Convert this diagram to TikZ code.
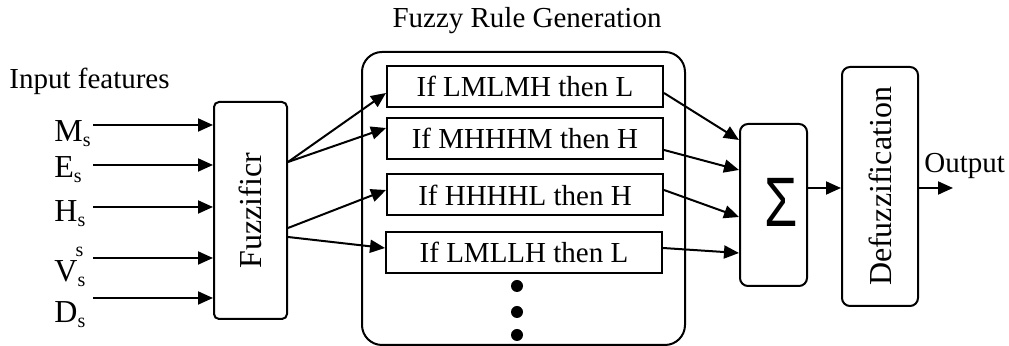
\documentclass[tikz,border=0pt]{standalone}
\usepackage{fontspec}
\setmainfont{Liberation Serif}
\newfontfamily\sumfont{Liberation Sans}
\usetikzlibrary{arrows.meta}
\tikzstyle{block}=[draw, line width=1pt, rounded corners=2.5pt, inner sep=0pt]
\tikzstyle{rulebox}=[draw, line width=1pt, minimum width=138pt, minimum height=20.5pt, inner sep=0pt]
\tikzstyle{feed}=[line width=1pt, -{Triangle[length=7.5pt,width=6.5pt]}]
\tikzstyle{feature}=[anchor=base west, inner sep=0pt, font=\fontsize{16}{19}\selectfont]
\tikzstyle{vlabel}=[rotate=90, font=\fontsize{16}{19}\selectfont]
\newcommand{\idx}[1]{\raisebox{-2.2pt}{\fontsize{10}{12}\selectfont #1}}

\begin{document}
\begin{tikzpicture}[x=0.5pt, y=-0.5pt, font=\fontsize{14.5}{17}\selectfont]
\useasboundingbox (0,0) rectangle (1009,346);
% Input features
    \node[anchor=base west, inner sep=0pt] (inputs) at (9,89) {Input features};
    \node[feature] (ms) at (54,141.7) {M\idx{s}};
    \node[feature] (es) at (54,178) {E\idx{s}};
    \node[feature] (hs) at (54,222) {H\idx{s}};
    \node[feature] (vs) at (54,282) {V\rlap{\hspace{-1pt}\raisebox{12.5pt}{\fontsize{10}{12}\selectfont s}}\idx{s}};
    \node[feature] (ds) at (54,323) {D\idx{s}};
% Fuzzifier
    \node[block, minimum width=36.5pt, minimum height=108.5pt] (fuzz) at (250.5,210.5) {};
    \node[vlabel] (fuzzlbl) at (fuzz) {Fuzzificr};
    \foreach \n/\y in {m/125,e/165,h/207,v/258,d/298}
      {\coordinate (\n in) at (93,\y);
       \draw[feed] (\n in) -- (\n in -| fuzz.west);}
% Rule base
    \node[block, rounded corners=10pt, minimum width=161.5pt, minimum height=146.5pt] (base) at (523.5,198.5) {};
    \node[anchor=base, inner sep=0pt] (title) at (527,28) {Fuzzy Rule Generation};
    \node[rulebox] (r1) at (525,86.5) {If LMLMH then L};
    \node[rulebox] (r2) at (525,138.5) {If MHHHM then H};
    \node[rulebox] (r3) at (525,195) {If HHHHL then H};
    \node[rulebox] (r4) at (524,252.5) {If LMLLH then L};
    \foreach \y in {286,312,335}
      \fill (517,\y) circle (3pt);
% Fuzzifier to rules
    \coordinate (f1) at ([yshift=24.25pt]fuzz.east);
    \coordinate (f2) at ([yshift=-8.75pt]fuzz.east);
    \coordinate (f3) at ([yshift=-13.25pt]fuzz.east);
    \draw[feed] (f1) -- ([yshift=-3.25pt]r1.west);
    \draw[feed] (f1) -- ([yshift=5.25pt]r2.west);
    \draw[feed] (f2) -- ([yshift=2.5pt]r3.west);
    \draw[feed] (f3) -- ([yshift=2.25pt]r4.west);
% Aggregation
    \node[block, rounded corners=4pt, minimum width=33.5pt, minimum height=81pt] (sum) at (773.5,205) {};
    \node[font=\sumfont\fontsize{35}{35}\selectfont, xscale=0.77, inner sep=0pt] (sumsign) at (781.5,202) {Σ};
    \draw[feed] ([yshift=-3.25pt]r1.east) -- ([yshift=32.5pt]sum.west);
    \draw[feed] ([yshift=-5.75pt]r2.east) -- ([yshift=17.5pt]sum.west);
    \draw[feed] ([yshift=2.5pt]r3.east) -- ([yshift=-6pt]sum.west);
    \draw[feed] ([yshift=2.25pt]r4.east) -- ([yshift=-24pt]sum.west);
% Defuzzifier and output
    \node[block, rounded corners=4pt, minimum width=38pt, minimum height=119.5pt] (dfz) at (880,186.5) {};
    \node[vlabel] (dfzlbl) at (dfz) {Defuzzification};
    \coordinate (sd) at ([yshift=8.5pt]sum.east);
    \draw[feed] (sd) -- (sd -| dfz.west);
    \coordinate (out) at (953,188);
    \draw[feed] (out -| dfz.east) -- (out);
    \node[anchor=base west, inner sep=0pt] (outlbl) at (924,173) {Output};
\end{tikzpicture}
\end{document}
